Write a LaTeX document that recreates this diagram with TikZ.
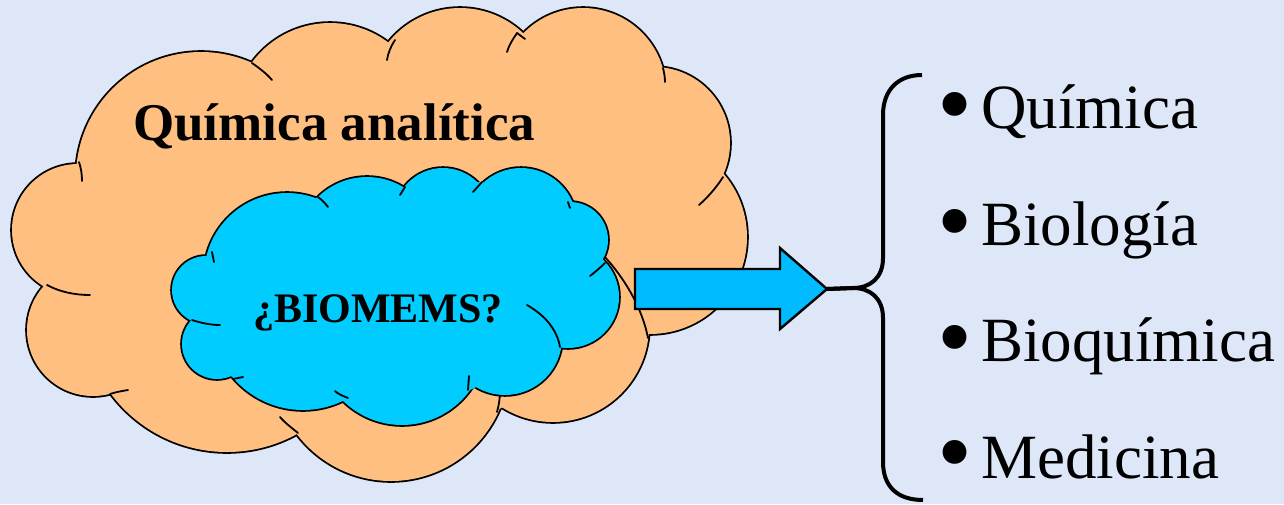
\documentclass[tikz,border=0pt]{standalone}
\usepackage{fontspec}
\setmainfont{Liberation Serif}
\definecolor{bg}{RGB}{221,231,248}
\definecolor{peach}{RGB}{255,191,128}
\definecolor{sky}{RGB}{0,204,255}
\definecolor{arrowblue}{RGB}{0,187,255}
\tikzset{
  lobeline/.style={line width=3.6pt, draw=black},
  stub/.style={line width=1.8pt, line cap=round},
  label/.style={inner sep=0pt, anchor=base west},
  bulletmark/.style={inner sep=0pt, anchor=center},
}
\newcommand{\itemfont}{\fontsize{63}{63}\selectfont}
\newcommand{\dotfont}{\fontsize{100}{100}\selectfont}
\begin{document}
\begin{tikzpicture}[x=1pt, y=-1pt, line join=round]
\fill[bg] (0,0) rectangle (1284,504);
\useasboundingbox (0,0) rectangle (1284,504);

% ---- outer cloud: lobes stroked, then filled over so only the rim stays
\foreach \cx/\cy/\r in {201/177/125, 330/120/97, 460/100/92, 583/91/83,
    654/143/76, 650/237/97, 553/326/96, 391/363/118, 227/307/145,
    93/330/66, 78/230/66}
  \draw[lobeline] (\cx,\cy) circle[radius=\r pt];
\foreach \cx/\cy/\r in {201/177/125, 330/120/97, 460/100/92, 583/91/83,
    654/143/76, 650/237/97, 553/326/96, 391/363/118, 227/307/145,
    93/330/66, 78/230/66}
  \fill[peach] (\cx,\cy) circle[radius=\r pt];
\fill[peach] (79,163) -- (252,63) -- (393,43) -- (517,33) -- (663,68)
  -- (723,177) -- (647,337) -- (497,410) -- (293,433) -- (110,394)
  -- (47,285) -- cycle;
% inner ends of the outer lobes
\draw[stub] (79,162) .. controls (81,168) and (82,174) .. (82,181);
\draw[stub] (252,63) .. controls (259,68) and (266,73) .. (272,80);
\draw[stub] (395,40) .. controls (391,46) and (388,53) .. (387,60);
\draw[stub] (517,33) .. controls (513,39) and (509,45) .. (507,52);
\draw[stub] (517,33) -- (525,39);
\draw[stub] (663,68) .. controls (664,72) and (665,77) .. (665,82);
\draw[stub] (723,177) .. controls (716,188) and (708,197) .. (699,205);
\draw[stub] (648,338) .. controls (643,312) and (628,282) .. (604,256);
\draw[stub] (497,412) .. controls (499,405) and (500,398) .. (500,390);
\draw[stub] (298,433) .. controls (292,428) and (285,423) .. (280,417);
\draw[stub] (110,394) .. controls (116,392) and (122,391) .. (128,390);
\draw[stub] (47,285) .. controls (60,292) and (75,295) .. (90,295);

% ---- inner cloud
\foreach \cx/\cy/\r in {287/276/83, 367/247/70, 443/217/49, 521/224/56,
    570/240/38, 568/297/51, 505/338/57, 402/341/84, 303/318/92,
    217/344/35, 206/290/34}
  \draw[lobeline] (\cx,\cy) circle[radius=\r pt];
\foreach \cx/\cy/\r in {287/276/83, 367/247/70, 443/217/49, 521/224/56,
    570/240/38, 568/297/51, 505/338/57, 402/341/84, 303/318/92,
    217/344/35, 206/290/34}
  \fill[sky] (\cx,\cy) circle[radius=\r pt];
\fill[sky] (212,255) -- (318,197) -- (405,187) -- (482,182) -- (568,202)
  -- (605,263) -- (560,347) -- (470,390) -- (345,400) -- (232,377)
  -- (193,322) -- cycle;
% inner ends of the inner lobes
\draw[stub] (212,252) -- (214,262);
\draw[stub] (318,197) .. controls (322,200) and (325,203) .. (328,207);
\draw[stub] (405,187) -- (400,195);
\draw[stub] (482,182) -- (473,192);
\draw[stub] (568,202) -- (570,208);
\draw[stub] (605,263) .. controls (600,268) and (595,272) .. (590,276);
\draw[stub] (527,305) .. controls (546,316) and (557,330) .. (560,347);
\draw[stub] (468,390) -- (469,376);
\draw[stub] (348,398) .. controls (343,396) and (338,394) .. (335,391);
\draw[stub] (233,379) -- (243,377);
\draw[stub] (192,320) .. controls (201,323) and (211,325) .. (220,325);

% ---- cloud labels
\node[label] (qa) at (133,140)
  {\bfseries\fontsize{53}{53}\selectfont Química analítica};
\node[label] (bio) at (253,322)
  {\bfseries\fontsize{42}{42}\selectfont ¿BIOMEMS?};

% ---- block arrow towards the brace
\coordinate (tip) at (827,289);
\filldraw[fill=arrowblue, draw=black, line width=2.4pt, line join=miter]
  (635,269) -- (780,269) -- (780,248) -- (tip) -- (780,329) -- (780,309)
  -- (635,309) -- cycle;

% ---- curly brace
\draw[line width=4pt, line cap=butt]
  (922,75) .. controls (898,75) and (883,90) .. (883,115)
  -- (883,258) .. controls (883,278) and (870,288) .. (853,288)
  -- (tip);
\draw[line width=4pt, line cap=butt]
  (tip) -- (853,288) .. controls (870,288) and (883,298) .. (883,318)
  -- (883,462) .. controls (883,487) and (898,500) .. (923,500);

% ---- list
\node[label] (l1) at (981,128) {\itemfont Química};
\node[label] (l2) at (981,245) {\itemfont Biología};
\node[label] (l3) at (981,361) {\itemfont Bioquímica};
\node[label] (l4) at (981,478) {\itemfont Medicina};
\node[bulletmark] (b1) at (955,115) {\dotfont •};
\node[bulletmark] (b2) at (955,232) {\dotfont •};
\node[bulletmark] (b3) at (955,348) {\dotfont •};
\node[bulletmark] (b4) at (955,463) {\dotfont •};
\end{tikzpicture}
\end{document}
